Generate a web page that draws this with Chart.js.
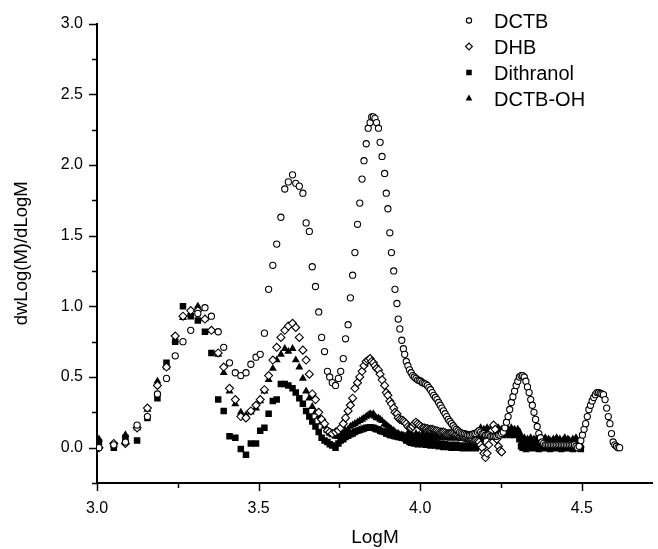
<!DOCTYPE html>
<html>
<head>
<meta charset="utf-8">
<script src="https://cdn.jsdelivr.net/npm/chart.js@4.4.1/dist/chart.umd.min.js"></script>
<style>
  body { margin: 0; background: #fff; }
  #wrap { width: 658px; height: 549px; }
</style>
</head>
<body>
<div id="wrap"><canvas id="chart" width="658" height="549"></canvas></div>
<script>
// shared LogM grid (sparse part, then the dense tail)
let logM = [
    3.006, 3.052, 3.088, 3.124, 3.156, 3.187, 3.215, 3.242, 3.266, 3.29,
    3.312, 3.334, 3.354, 3.375, 3.392, 3.41, 3.428, 3.445, 3.461, 3.476,
    3.492, 3.505, 3.518, 3.531, 3.544, 3.556, 3.569, 3.581, 3.592, 3.605,
    3.615, 3.626, 3.637, 3.647, 3.657, 3.666, 3.676, 3.686, 3.695, 3.704,
    3.713, 3.72, 3.728, 3.738, 3.747, 3.754, 3.762, 3.769, 3.777, 3.784,
    3.791, 3.798, 3.806, 3.813, 3.82, 3.826, 3.833, 3.839, 3.845, 3.85,
    3.855, 3.86, 3.865, 3.871, 3.876, 3.882, 3.89, 3.895, 3.9, 3.906,
    3.911, 3.918, 3.922, 3.928, 3.932, 3.937, 3.943, 3.948, 3.952,
    3.957, 3.962, 3.967, 3.972, 3.977, 3.982, 3.987, 3.992, 3.997, 4.002,
    4.007, 4.012, 4.017, 4.022, 4.027, 4.032, 4.037, 4.042, 4.047, 4.052,
    4.057, 4.062, 4.067, 4.072, 4.077, 4.082, 4.087, 4.092, 4.097, 4.102,
    4.107, 4.112, 4.117, 4.122, 4.127, 4.132, 4.137, 4.142, 4.147, 4.152,
    4.157, 4.162, 4.167, 4.172, 4.177, 4.182, 4.187, 4.192, 4.197, 4.202,
    4.207, 4.212, 4.217, 4.222, 4.227, 4.232, 4.237, 4.242, 4.247, 4.252,
    4.257, 4.262, 4.267, 4.272, 4.277, 4.282, 4.287, 4.292, 4.297, 4.302,
    4.307, 4.312, 4.317, 4.322, 4.327, 4.332, 4.337, 4.342, 4.347, 4.352,
    4.357, 4.362, 4.367, 4.372, 4.377, 4.382, 4.387, 4.392, 4.397, 4.402,
    4.407, 4.412, 4.417, 4.422, 4.427, 4.432, 4.437, 4.442, 4.447, 4.452,
    4.457, 4.462, 4.467, 4.472, 4.477, 4.482, 4.487, 4.492, 4.497, 4.502,
    4.507, 4.512, 4.517, 4.522, 4.527, 4.532, 4.537, 4.542, 4.547, 4.552,
    4.557, 4.562, 4.567, 4.572, 4.577, 4.582, 4.587, 4.592, 4.597, 4.602,
    4.607, 4.612, 4.617
]

let dctb = [
    0, 0.02, 0.04, 0.16, 0.22, 0.38, 0.49, 0.65, 0.75, 0.83,
    0.95, 0.99, 0.93, 0.82, 0.71, 0.6, 0.53, 0.51, 0.53, 0.59,
    0.64, 0.66, 0.81, 1.12, 1.29, 1.44, 1.63, 1.83, 1.88, 1.93,
    1.87, 1.85, 1.8, 1.59, 1.53, 1.28, 1.14, 0.96, 0.78, 0.68,
    0.54, 0.5, 0.46, 0.44, 0.49, 0.54, 0.63, 0.77, 0.87, 1.06,
    1.22, 1.38, 1.58, 1.73, 1.9, 2.03, 2.15, 2.26, 2.3, 2.34,
    2.34, 2.33, 2.3, 2.26, 2.16, 2.06, 1.94, 1.8, 1.69, 1.52,
    1.38, 1.25, 1.12, 1.02, 0.91, 0.84, 0.76, 0.7, 0.66,
    0.61, 0.58, 0.55, 0.53, 0.51, 0.5, 0.49, 0.48, 0.475, 0.47,
    0.46, 0.455, 0.45, 0.44, 0.425, 0.41, 0.39, 0.37, 0.355, 0.34,
    0.32, 0.3, 0.28, 0.26, 0.24, 0.22, 0.2, 0.185, 0.17, 0.155,
    0.14, 0.13, 0.12, 0.11, 0.105, 0.1, 0.1, 0.095, 0.09, 0.09,
    0.09, 0.095, 0.1, 0.1, 0.11, 0.12, 0.11, 0.1, 0.1, 0.09,
    0.09, 0.09, 0.08, 0.08, 0.08, 0.08, 0.08, 0.09, 0.09, 0.1,
    0.11, 0.14, 0.18, 0.22, 0.27, 0.32, 0.36, 0.4, 0.44, 0.47,
    0.5, 0.51, 0.51, 0.5, 0.47, 0.43, 0.39, 0.34, 0.3, 0.25,
    0.2, 0.15, 0.1, 0.07, 0.04, 0.03, 0.02, 0.02, 0.02, 0.02,
    0.02, 0.02, 0.02, 0.02, 0.02, 0.02, 0.02, 0.02, 0.02, 0.02,
    0.02, 0.02, 0.02, 0.02, 0.02, 0.01, 0, 0.01, 0.05, 0.09,
    0.13, 0.17, 0.22, 0.27, 0.3, 0.33, 0.355, 0.375, 0.39, 0.39,
    0.385, 0.38, 0.375, 0.34, 0.28, 0.22, 0.17, 0.1, 0.04, 0.02,
    0.01, 0, 0
]

let dhb = [
    0, 0.03, 0.03, 0.14, 0.28, 0.44, 0.57, 0.79, 0.93, 0.97,
    0.97, 0.91, 0.83, 0.67, 0.57, 0.42, 0.34, 0.22, 0.21, 0.26,
    0.3, 0.34, 0.41, 0.51, 0.62, 0.71, 0.78, 0.83, 0.86, 0.88,
    0.85, 0.78, 0.69, 0.62, 0.52, 0.38, 0.34, 0.25, 0.2, 0.17,
    0.12, 0.11, 0.1, 0.11, 0.12, 0.14, 0.17, 0.21, 0.26, 0.3,
    0.35, 0.42, 0.46, 0.5, 0.54, 0.58, 0.61, 0.62, 0.63, 0.61,
    0.6, 0.58, 0.56, 0.55, 0.52, 0.48, 0.44, 0.39, 0.37, 0.33,
    0.31, 0.28, 0.25, 0.24, 0.21, 0.2, 0.195, 0.19, 0.18,
    0.17, 0.15, 0.14, 0.14, 0.15, 0.17, 0.18, 0.17, 0.16, 0.15,
    0.14, 0.14, 0.135, 0.135, 0.13, 0.13, 0.13, 0.125, 0.12, 0.12,
    0.115, 0.11, 0.11, 0.11, 0.105, 0.1, 0.1, 0.1, 0.1, 0.095,
    0.09, 0.09, 0.085, 0.08, 0.08, 0.075, 0.07, 0.07, 0.065, 0.06,
    0.06, 0.055, 0.05, 0.05, 0.045, 0.04, 0.02, 0, -0.04, -0.07,
    -0.04, 0.02, 0.08, 0.12, 0.16, 0.13, 0.06, 0.01, -0.02, -0.03
]

let dithranol = [
    0.04, 0, 0.07, 0.05, 0.21, 0.35, 0.6, 0.75, 1.0, 0.93,
    0.9, 0.82, 0.67, 0.34, 0.26, 0.08, 0.07, -0.01, -0.05, 0.03,
    0.03, 0.12, 0.14, 0.24, 0.33, 0.34, 0.45, 0.45, 0.44, 0.42,
    0.39, 0.35, 0.31, 0.26, 0.22, 0.185, 0.15, 0.11, 0.07, 0.05,
    0.04, 0.025, 0.015, 0, 0.03, 0.05, 0.06, 0.075, 0.085, 0.095,
    0.1, 0.11, 0.12, 0.125, 0.13, 0.135, 0.14, 0.14, 0.145, 0.14,
    0.14, 0.135, 0.13, 0.13, 0.12, 0.115, 0.11, 0.1, 0.1, 0.09,
    0.09, 0.085, 0.08, 0.08, 0.075, 0.075, 0.07, 0.07, 0.065,
    0.05, 0.055, 0.04, 0.035, 0.05, 0.03, 0.04, 0.025, 0.045, 0.03,
    0.025, 0.04, 0.02, 0.035, 0.025, 0.015, 0.035, 0.02, 0.015, 0.03,
    0.01, 0.025, 0.015, 0.005, 0.025, 0.01, 0.005, 0.02, 0, 0.015,
    0.005, 0.02, 0, 0.01, 0.015, -0.005, 0.01, 0, 0.015, -0.005,
    0.01, 0, 0.015, -0.005, 0.01, 0.02, 0.06, 0.08, 0.09, 0.11,
    0.1, 0.12, 0.09, 0.11, 0.1, 0.12, 0.09, 0.11, 0.1, 0.12,
    0.09, 0.11, 0.1, 0.12, 0.09, 0.1, 0.11, 0.09, 0.1, 0.11,
    0.06, 0.01, 0, 0.01, -0.01, 0.005, 0, 0.01, -0.005, 0.005,
    0, 0.01, -0.01, 0.005, 0, 0.01, -0.005, 0, 0.01, -0.01,
    0.005, 0, 0.01, -0.005, 0.005, 0, -0.01, 0.01, 0, 0.005,
    -0.005, 0, 0.01, -0.01, 0.005, 0, -0.005, 0, -0.01
]

let dctbOH = [
    0.06, 0.02, 0.09, 0.14, 0.27, 0.47, 0.57, 0.76, 0.92, 0.95,
    1.0, 0.91, 0.83, 0.66, 0.53, 0.4, 0.31, 0.25, 0.23, 0.25,
    0.28, 0.33, 0.4, 0.48, 0.56, 0.62, 0.66, 0.7, 0.68, 0.7,
    0.62, 0.57, 0.49, 0.4, 0.35, 0.29, 0.25, 0.22, 0.18, 0.15,
    0.12, 0.1, 0.09, 0.08, 0.08, 0.09, 0.1, 0.12, 0.13, 0.15,
    0.16, 0.17, 0.18, 0.19, 0.2, 0.21, 0.22, 0.23, 0.24, 0.23,
    0.24, 0.22, 0.21, 0.21, 0.2, 0.19, 0.17, 0.16, 0.15, 0.14,
    0.13, 0.12, 0.11, 0.1, 0.1, 0.09, 0.09, 0.085, 0.08,
    0.085, 0.1, 0.075, 0.095, 0.085, 0.07, 0.1, 0.08, 0.09, 0.075,
    0.095, 0.07, 0.09, 0.075, 0.1, 0.07, 0.085, 0.095, 0.065, 0.09,
    0.075, 0.095, 0.065, 0.085, 0.07, 0.09, 0.075, 0.065, 0.085, 0.07,
    0.09, 0.065, 0.08, 0.085, 0.065, 0.08, 0.09, 0.065, 0.08, 0.085,
    0.07, 0.09, 0.08, 0.1, 0.085, 0.11, 0.14, 0.11, 0.13, 0.12,
    0.14, 0.11, 0.13, 0.12, 0.15, 0.11, 0.13, 0.14, 0.12, 0.13,
    0.11, 0.14, 0.12, 0.13, 0.11, 0.14, 0.12, 0.13, 0.11, 0.13,
    0.11, 0.08, 0.05, 0.07, 0.04, 0.06, 0.05, 0.07, 0.04, 0.06,
    0.05, 0.07, 0.04, 0.06, 0.03, 0.05, 0.07, 0.04, 0.06, 0.05,
    0.04, 0.06, 0.05, 0.07, 0.03, 0.06, 0.04, 0.05, 0.07, 0.04,
    0.06, 0.05, 0.03, 0.06, 0.04, 0.07, 0.05, 0.04, 0.02
]

let seriesNames = ["DCTB", "DHB", "Dithranol", "DCTB-OH"]
let xTitle = "LogM"
let yTitle = "dwLog(M)/dLogM"

let fontFamily = "'Liberation Sans', Arial, sans-serif"

function points(values) {
    let out = []
    for (let i = 0; i < logM.length; i++) {
        if (values[i] !== undefined && values[i] !== null) {
            out.push({ x: logM[i], y: values[i] })
        }
    }
    return out
}

function isMajor(v) {
    return Math.abs(v * 2 - Math.round(v * 2)) < 1e-6
}

function onQuarter(v) {
    return Math.abs(v * 4 - Math.round(v * 4)) < 1e-6
}

// major and minor tick marks, drawn outward like the original plot
let tickMarks = {
    id: "tickMarks",
    afterDraw(chart) {
        let ctx = chart.ctx
        let xs = chart.scales.x
        let ys = chart.scales.y
        ctx.save()
        ctx.strokeStyle = "#000"
        ctx.lineWidth = 1.5
        ctx.beginPath()
        xs.ticks.forEach(t => {
            let px = Math.round(xs.getPixelForValue(t.value)) + 0.5
            let len = isMajor(t.value) ? 8 : 5
            ctx.moveTo(px, chart.chartArea.bottom)
            ctx.lineTo(px, chart.chartArea.bottom + len)
        })
        ys.ticks.forEach(t => {
            let py = Math.round(ys.getPixelForValue(t.value)) + 0.5
            let len = isMajor(t.value) ? 8 : 5
            ctx.moveTo(chart.chartArea.left, py)
            ctx.lineTo(chart.chartArea.left - len, py)
        })
        ctx.stroke()
        ctx.restore()
    }
}

// legend in the upper right of the plot
let seriesLegend = {
    id: "seriesLegend",
    afterDraw(chart) {
        let ctx = chart.ctx
        ctx.save()
        chart.data.datasets.forEach((ds, i) => {
            let y = 20.5 + i * 26
            ctx.fillStyle = ds.backgroundColor
            ctx.strokeStyle = ds.borderColor
            ctx.lineWidth = ds.borderWidth
            Chart.helpers.drawPoint(ctx, {
                pointStyle: ds.pointStyle,
                radius: ds.pointRadius * 0.85,
                borderWidth: ds.borderWidth,
                rotation: 0
            }, 469, y)
            ctx.fillStyle = "#000"
            ctx.font = "20px " + fontFamily
            ctx.textBaseline = "alphabetic"
            ctx.textAlign = "left"
            ctx.fillText(ds.label, 494, y + 7)
        })
        ctx.restore()
    }
}

new Chart(document.getElementById("chart"), {
    type: "scatter",
    data: {
        datasets: [
            {
                label: seriesNames[0],
                data: points(dctb),
                pointStyle: "circle",
                pointRadius: 3.1,
                borderWidth: 1.1,
                borderColor: "#000",
                backgroundColor: "#fff"
            },
            {
                label: seriesNames[1],
                data: points(dhb),
                pointStyle: "rectRot",
                pointRadius: 4,
                borderWidth: 1.1,
                borderColor: "#000",
                backgroundColor: "#fff"
            },
            {
                label: seriesNames[2],
                data: points(dithranol),
                pointStyle: "rect",
                pointRadius: 4.6,
                borderWidth: 0,
                borderColor: "#000",
                backgroundColor: "#000"
            },
            {
                label: seriesNames[3],
                data: points(dctbOH),
                pointStyle: "triangle",
                pointRadius: 4.6,
                borderWidth: 0,
                borderColor: "#000",
                backgroundColor: "#000"
            }
        ]
    },
    options: {
        responsive: false,
        animation: false,
        events: [],
        layout: { padding: { top: 22, right: 1, left: 0, bottom: 0 } },
        plugins: {
            legend: { display: false },
            tooltip: { enabled: false }
        },
        scales: {
            x: {
                type: "linear",
                min: 3.0,
                max: 4.72,
                afterBuildTicks: s => { s.ticks = s.ticks.filter(t => onQuarter(t.value)) },
                afterFit: s => { s.height = 66 },
                ticks: {
                    stepSize: 0.25,
                    autoSkip: false,
                    maxRotation: 0,
                    padding: 16,
                    color: "#000",
                    font: { family: fontFamily, size: 16 },
                    callback: v => isMajor(v) ? v.toFixed(1) : ""
                },
                grid: { drawOnChartArea: false, drawTicks: false },
                border: { color: "#000", width: 2 },
                title: {
                    display: true,
                    text: xTitle,
                    color: "#000",
                    font: { family: fontFamily, size: 19 },
                    padding: { top: 3, bottom: 0 }
                }
            },
            y: {
                type: "linear",
                min: -0.25,
                max: 3.0,
                afterFit: s => { s.width = 97 },
                ticks: {
                    stepSize: 0.25,
                    autoSkip: false,
                    padding: 14,
                    color: "#000",
                    font: { family: fontFamily, size: 16 },
                    callback: v => isMajor(v) ? v.toFixed(1) : ""
                },
                grid: { drawOnChartArea: false, drawTicks: false },
                border: { color: "#000", width: 2 },
                title: {
                    display: true,
                    text: yTitle,
                    color: "#000",
                    font: { family: fontFamily, size: 18.5 },
                    padding: { top: 11, bottom: 0 }
                }
            }
        }
    },
    plugins: [tickMarks, seriesLegend]
})
</script>
</body>
</html>
